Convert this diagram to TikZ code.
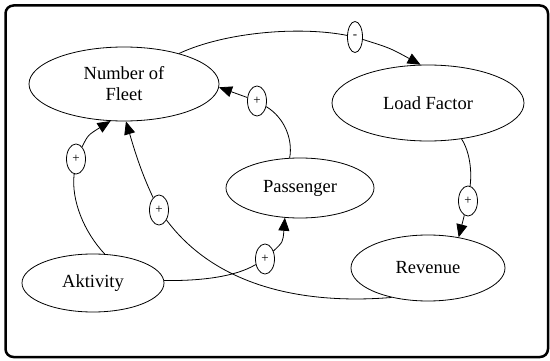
\documentclass[tikz,border=0pt]{standalone}
\usepackage{fontspec}
\setmainfont{Liberation Serif}
\usetikzlibrary{shapes.geometric,arrows.meta}
\begin{document}
\begin{tikzpicture}[x=1pt,y=-1pt,
  var/.style={ellipse, draw, line width=0.8pt, inner sep=0pt, align=center,
    font=\fontsize{18.5}{21}\selectfont},
  sgn/.style={ellipse, draw, line width=0.8pt, inner sep=0pt,
    minimum width=19pt, minimum height=30pt, font=\fontsize{13}{13}\selectfont},
  link/.style={line width=0.8pt},
  arr/.style={link, -{Triangle[length=13pt,width=11pt]}}]
\useasboundingbox (0,0) rectangle (550,361);
\draw[line width=2.5pt, rounded corners=8pt] (5.5,5.5) rectangle (548,357);
% variables
\node[var, minimum width=190pt, minimum height=74pt] (fleet) at (124,84) {Number of\\Fleet};
\node[var, minimum width=192pt, minimum height=76pt] (loadf) at (428,103) {Load Factor};
\node[var, minimum width=148pt, minimum height=60pt] (pass) at (300,188) {Passenger};
\node[var, minimum width=142pt, minimum height=58pt] (akt) at (93,283) {Aktivity};
\node[var, minimum width=154pt, minimum height=66pt] (rev) at (428,268) {Revenue};
% polarity markers
\node[sgn, minimum width=15pt, minimum height=31pt] (m1) at (355,37) {-};
\node[sgn] (m2) at (468,201) {+};
\node[sgn] (m3) at (257,101) {+};
\node[sgn] (m4) at (76,159) {+};
\node[sgn] (m5) at (159,210) {+};
\node[sgn] (m6) at (265,259) {+};
% Fleet -> Load Factor
\draw[link] (fleet.29) .. controls (225,32) and (300,26) .. (m1);
\draw[arr] (m1) .. controls (390,48) .. (loadf.101);
% Load Factor -> Revenue
\draw[link] (loadf.-47) .. controls (470,152) and (472,172) .. (m2);
\draw[arr] (m2) -- (rev.45);
% Passenger -> Fleet
\draw[link] (pass.109) .. controls (293,140) and (285,118) .. (m3);
\draw[arr] (m3) -- (fleet.-2);
% Aktivity -> Fleet
\draw[link] (akt.68) .. controls (84,232) and (71,200) .. (m4);
\draw[arr] (m4) .. controls (88,135) .. (fleet.-110);
% Revenue -> Fleet
\draw[link] (rev.-141) .. controls (300,305) and (215,285) .. (m5);
\draw[arr] (m5) .. controls (140,170) and (133,145) .. (fleet.-87);
% Aktivity -> Passenger
\draw[link] (akt.2) .. controls (200,281) and (235,277) .. (m6);
\draw[arr] (m6) .. controls (283,242) .. (pass.-117);
\end{tikzpicture}
\end{document}
